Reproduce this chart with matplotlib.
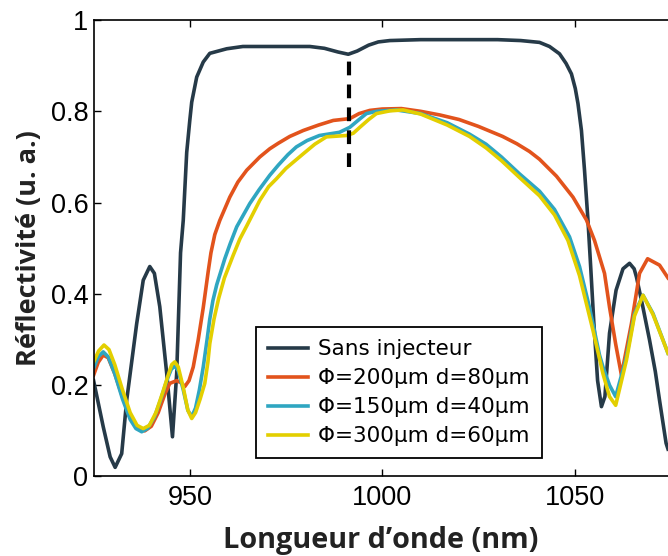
import numpy as np
import matplotlib.pyplot as plt

# ---- data (wavelength in nm, reflectivity a.u.) ----
x_ref = [925.0, 927.5, 929.3, 930.6, 932.3, 933.6, 936.2, 937.9, 939.6, 940.8,
         942.2, 944.0, 945.5, 946.6, 947.6, 948.3, 949.2, 950.0, 950.5, 951.8,
         953.5, 955.2, 959.6, 963.8, 970.8, 981.2, 985.0, 988.5, 991.2, 993.5,
         996.5, 999.0, 1002.0, 1010.0, 1030.0, 1036.0, 1040.9, 1043.5, 1046.1, 1047.8,
         1049.2, 1050.2, 1050.9, 1051.8, 1052.6, 1053.5, 1054.2, 1055.0, 1056.0, 1057.0,
         1057.9, 1059.1, 1060.8, 1062.6, 1064.3, 1065.5, 1066.1, 1067.8, 1069.5, 1071.0,
         1072.1, 1073.8, 1074.3]
y_ref = [0.21, 0.109, 0.043, 0.02, 0.05, 0.167, 0.335, 0.43, 0.46, 0.445,
         0.372, 0.226, 0.087, 0.226, 0.49, 0.561, 0.71, 0.78, 0.82, 0.875,
         0.908, 0.927, 0.937, 0.942, 0.942, 0.942, 0.938, 0.93, 0.925, 0.932,
         0.945, 0.952, 0.955, 0.957, 0.957, 0.955, 0.951, 0.942, 0.926, 0.905,
         0.882, 0.85, 0.817, 0.758, 0.671, 0.561, 0.46, 0.34, 0.21, 0.153,
         0.175, 0.314, 0.408, 0.455, 0.467, 0.455, 0.437, 0.37, 0.299, 0.23,
         0.167, 0.073, 0.06]

x_200 = [925.0, 926.2, 927.5, 928.8, 930.5, 932.5, 934.5, 936.5, 938.3, 940.0,
         941.8, 943.5, 944.8, 946.6, 947.8, 948.7, 949.8, 950.9, 952.2, 953.5,
         954.8, 955.5, 956.5, 957.8, 960.4, 962.5, 964.8, 968.2, 970.8, 973.0,
         976.0, 979.5, 983.5, 987.3, 991.6, 994.0, 996.8, 1000.0, 1005.0, 1010.0,
         1015.0, 1020.0, 1025.0, 1031.3, 1035.0, 1038.3, 1040.9, 1045.3, 1049.6, 1053.1,
         1055.2, 1057.8, 1059.1, 1060.7, 1062.2, 1063.3, 1064.8, 1066.9, 1069.0, 1072.1,
         1074.3]
y_200 = [0.222, 0.25, 0.266, 0.26, 0.225, 0.175, 0.13, 0.105, 0.10, 0.11,
         0.14, 0.18, 0.204, 0.21, 0.205, 0.197, 0.21, 0.24, 0.30, 0.37,
         0.45, 0.49, 0.53, 0.561, 0.612, 0.645, 0.671, 0.70, 0.718, 0.73,
         0.745, 0.758, 0.77, 0.78, 0.784, 0.795, 0.802, 0.805, 0.806, 0.80,
         0.792, 0.782, 0.767, 0.745, 0.729, 0.712, 0.695, 0.658, 0.612, 0.562,
         0.517, 0.445, 0.371, 0.29, 0.222, 0.27, 0.335, 0.445, 0.477, 0.463,
         0.435]

x_150 = [925.0, 926.2, 927.5, 928.8, 930.5, 932.5, 934.5, 936.0, 937.5, 939.0,
         940.8, 942.5, 944.0, 945.2, 946.1, 947.0, 948.3, 949.5, 950.5, 951.5,
         952.5, 953.5, 954.5, 955.2, 956.0, 957.0, 959.1, 960.5, 962.2, 965.6,
         968.0, 970.8, 973.0, 975.5, 977.7, 980.5, 983.7, 988.9, 991.6, 994.0,
         995.9, 998.5, 1003.7, 1010.0, 1016.9, 1022.7, 1027.0, 1031.0, 1035.7, 1040.9,
         1044.8, 1048.7, 1051.3, 1053.9, 1056.5, 1057.4, 1059.1, 1060.7, 1063.5, 1065.6,
         1067.8, 1070.4, 1074.3]
y_150 = [0.237, 0.262, 0.273, 0.262, 0.225, 0.17, 0.125, 0.105, 0.098, 0.105,
         0.13, 0.17, 0.21, 0.235, 0.242, 0.232, 0.19, 0.145, 0.131, 0.15,
         0.19, 0.24, 0.30, 0.345, 0.385, 0.42, 0.477, 0.51, 0.547, 0.598,
         0.628, 0.66, 0.682, 0.705, 0.722, 0.736, 0.747, 0.754, 0.765, 0.782,
         0.795, 0.80, 0.803, 0.795, 0.775, 0.75, 0.728, 0.70, 0.663, 0.625,
         0.585, 0.525, 0.46, 0.37, 0.266, 0.24, 0.20, 0.175, 0.262, 0.357,
         0.397, 0.357, 0.27]

x_300 = [925.0, 926.3, 927.7, 929.0, 930.5, 932.5, 934.5, 936.3, 937.9, 939.5,
         941.2, 943.0, 944.5, 945.3, 946.1, 947.0, 948.3, 949.5, 950.5, 951.5,
         952.7, 953.9, 954.7, 955.2, 956.3, 957.5, 959.0, 961.3, 963.0, 964.8,
         968.2, 970.5, 972.5, 975.0, 979.5, 982.5, 985.5, 990.7, 992.5, 994.2,
         996.5, 998.5, 1002.0, 1005.4, 1010.0, 1016.9, 1022.7, 1027.0, 1031.0, 1035.7,
         1040.9, 1044.8, 1048.3, 1051.3, 1054.8, 1057.4, 1059.1, 1060.7, 1063.5, 1065.6,
         1067.8, 1070.4, 1074.3]
y_300 = [0.251, 0.275, 0.288, 0.278, 0.245, 0.19, 0.14, 0.112, 0.105, 0.112,
         0.14, 0.185, 0.225, 0.245, 0.251, 0.24, 0.195, 0.145, 0.127, 0.14,
         0.17, 0.204, 0.25, 0.291, 0.345, 0.39, 0.435, 0.485, 0.52, 0.549,
         0.605, 0.635, 0.652, 0.675, 0.707, 0.728, 0.744, 0.747, 0.752, 0.765,
         0.782, 0.795, 0.801, 0.803, 0.794, 0.77, 0.745, 0.72, 0.692, 0.655,
         0.615, 0.573, 0.517, 0.44, 0.32, 0.225, 0.175, 0.156, 0.255, 0.352,
         0.397, 0.355, 0.27]

labels = ["Sans injecteur", "Φ=200µm d=80µm", "Φ=150µm d=40µm", "Φ=300µm d=60µm"]
colors = ["#263a48", "#e2531c", "#2fa6c1", "#e3cf00"]

dash_x = 991.4
dash_y = (0.678, 0.915)

# ---- figure ----
fig = plt.figure(figsize=(6.68, 5.56), dpi=100)
ax = fig.add_axes([0.1407, 0.143, 0.8593, 0.821])

series = [(x_ref, y_ref), (x_200, y_200), (x_150, y_150), (x_300, y_300)]
for (xs, ys), lab, c in zip(series, labels, colors):
    ax.plot(xs, ys, color=c, lw=2.6, label=lab, solid_joinstyle='round')

ax.plot([dash_x, dash_x], dash_y, color='black', lw=3, dashes=(3.3, 2.2))

ax.set_xlim(925.1, 1074.3)
ax.set_ylim(0, 1)
ax.set_xticks([950, 1000, 1050])
ax.set_yticks([0, 0.2, 0.4, 0.6, 0.8, 1])
ax.set_yticklabels(["0", "0.2", "0.4", "0.6", "0.8", "1"])
ax.tick_params(direction='in', top=True, right=False, length=5, width=1,
               labelsize=19.5, pad=4)
ax.tick_params(axis='x', pad=6)
for lab in ax.get_xticklabels() + ax.get_yticklabels():
    lab.set_family('Liberation Sans')
ax.spines['right'].set_visible(False)
for s in ['left', 'bottom', 'top']:
    ax.spines[s].set_linewidth(1.2)

ax.set_xlabel("Longueur d’onde (nm)", family='Open Sans', weight='bold',
              fontsize=20.8, color='#222222', labelpad=11)
ax.set_ylabel("Réflectivité (u. a.)", family='Open Sans', weight='bold',
              fontsize=19.5, color='#222222', labelpad=6)

leg = ax.legend(loc='lower left', bbox_to_anchor=(0.282, 0.04), fancybox=False,
                edgecolor='black', framealpha=1, fontsize=15.5, handlelength=1.85,
                handletextpad=0.5, borderpad=0.55, labelspacing=0.42,
                borderaxespad=0)
leg.get_frame().set_linewidth(1.3)

fig.savefig("out.png", dpi=100)
